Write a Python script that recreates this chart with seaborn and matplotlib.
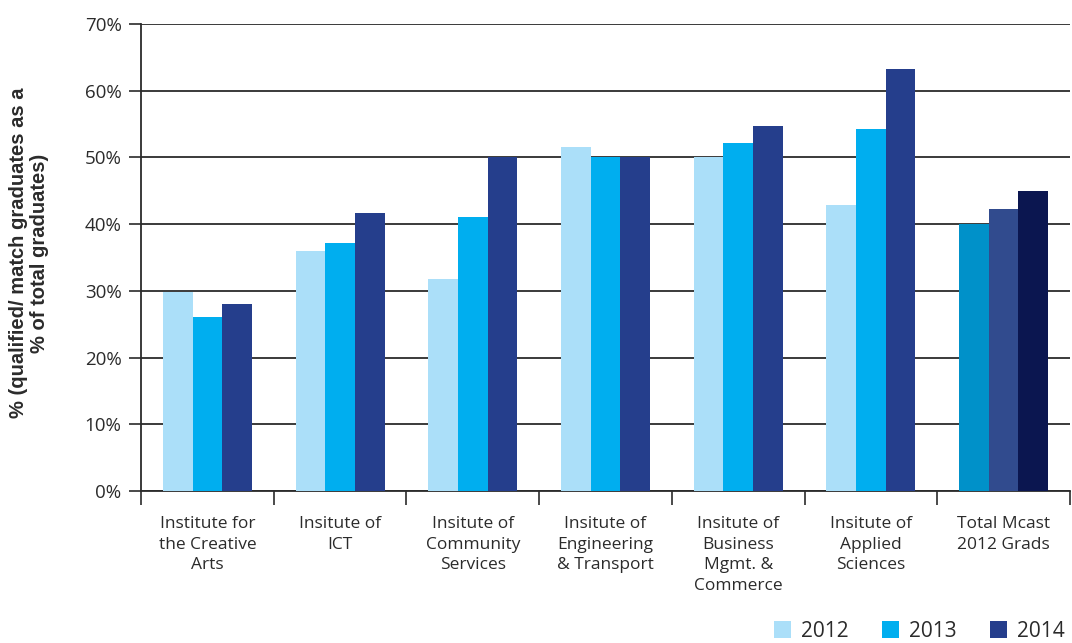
import matplotlib
matplotlib.use("Agg")
import matplotlib.pyplot as plt
from matplotlib.patches import Patch
from matplotlib.ticker import FixedLocator
import seaborn as sns
import pandas as pd

categories = [
    "Institute for\nthe Creative\nArts",
    "Insitute of\nICT",
    "Insitute of\nCommunity\nServices",
    "Insitute of\nEngineering\n& Transport",
    "Insitute of\nBusiness\nMgmt. &\nCommerce",
    "Insitute of\nApplied\nSciences",
    "Total Mcast\n2012 Grads",
]
years = ["2012", "2013", "2014"]
values_2012 = [29.8, 36.0, 31.8, 51.6, 50.1, 42.9, 40.0]
values_2013 = [26.1, 37.1, 41.1, 50.0, 52.2, 54.2, 42.2]
values_2014 = [28.0, 41.6, 50.0, 50.0, 54.7, 63.2, 45.0]
yticks = [0, 10, 20, 30, 40, 50, 60, 70]

year_colors = ["#abdff9", "#00aeef", "#253e8c"]
total_colors = ["#0091c9", "#314b8e", "#0b1650"]
ink = "#2b2b2b"

sns.set_theme(style="white")
plt.rcParams["font.family"] = ["Open Sans", "DejaVu Sans"]

df = pd.DataFrame({
    "category": categories * 3,
    "year": [y for y in years for _ in categories],
    "value": values_2012 + values_2013 + values_2014,
})

fig = plt.figure(figsize=(10.72, 6.43), dpi=100)
ax = fig.add_axes([141 / 1072, 1 - 491 / 643, 929 / 1072, 467 / 643])

sns.barplot(data=df, x="category", y="value", hue="year", order=categories,
            hue_order=years, palette=year_colors, width=0.67, saturation=1,
            legend=False, ax=ax, zorder=3, linewidth=0)

# the overall MCAST group uses its own darker shades
for i, container in enumerate(ax.containers):
    container[len(categories) - 1].set_facecolor(total_colors[i])

ax.set_xlim(-0.5, len(categories) - 0.5)
ax.set_ylim(0, 70)
ax.set_yticks(yticks)
ax.set_yticklabels([f"{v}%" for v in yticks])
ax.yaxis.grid(True, color=ink, linewidth=1.3, zorder=0)
ax.set_axisbelow(True)

ax.xaxis.set_minor_locator(FixedLocator([i - 0.5 for i in range(len(categories) + 1)]))
ax.tick_params(axis="x", which="major", length=0, pad=18, labelsize=12.5, labelcolor=ink)
ax.tick_params(axis="x", which="minor", length=10, width=1.2, color=ink, direction="out", bottom=True)
ax.tick_params(axis="y", length=9, width=1.2, color=ink, direction="out", left=True,
               labelsize=13.5, labelcolor=ink, pad=5)
for lbl in ax.get_xticklabels():
    lbl.set_linespacing(1.38)

for side in ["top", "right"]:
    ax.spines[side].set_visible(False)
for side in ["left", "bottom"]:
    ax.spines[side].set_color(ink)
    ax.spines[side].set_linewidth(1.3)

ax.set_xlabel("")
ax.set_ylabel("")
fig.text(29 / 1072, 1 - 253 / 643,
         "% (qualified/ match graduates as a\n% of total graduates)",
         rotation=90, ha="center", va="center", multialignment="center",
         fontsize=14.5, fontweight="bold", color=ink,
         family=["Liberation Sans", "DejaVu Sans"], linespacing=1.15)

handles = [Patch(facecolor=c, edgecolor="none") for c in year_colors]
fig.legend(handles, years, loc="lower right", bbox_to_anchor=(1.011, -0.027),
           ncol=3, frameon=False, fontsize=15, handlelength=0.8, handleheight=0.9,
           handletextpad=0.5, columnspacing=1.6, labelcolor=ink)

fig.savefig("out.png", dpi=100)
